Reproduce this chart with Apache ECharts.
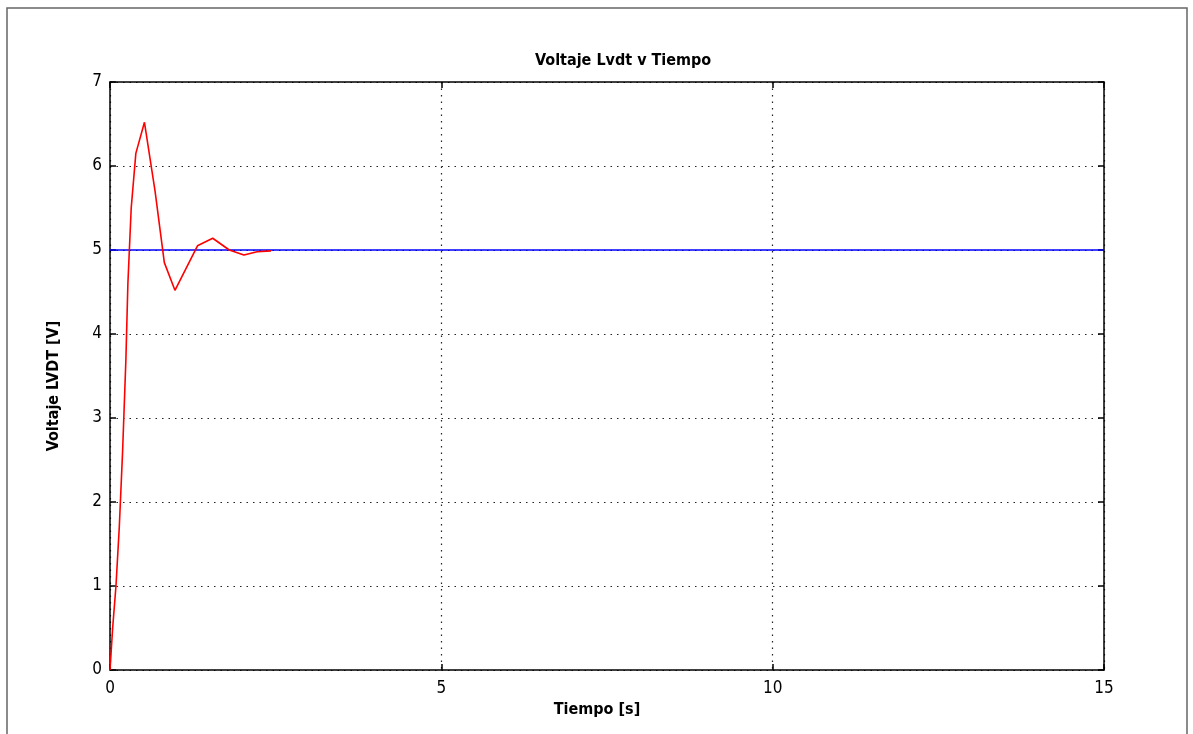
<!DOCTYPE html>
<html>
<head>
<meta charset="utf-8">
<script src="https://cdn.jsdelivr.net/npm/echarts@6/dist/echarts.min.js"></script>
<style>html,body{margin:0;padding:0;background:#fff;}#c{width:1193px;height:734px;}</style>
</head>
<body>
<div id="c"></div>
<script>
const xTicks = [0, 5, 10, 15];
const yTicks = [0, 1, 2, 3, 4, 5, 6, 7];
const timeRed = [0, 0.04, 0.09, 0.14, 0.19, 0.24, 0.27, 0.32, 0.39, 0.52, 0.68, 0.82, 0.98, 1.32, 1.55, 1.8, 2.02, 2.22, 2.43];
const voltRed = [0, 0.5, 1.0, 1.7, 2.6, 3.7, 4.6, 5.5, 6.15, 6.52, 5.7, 4.85, 4.52, 5.05, 5.14, 5.0, 4.94, 4.98, 4.99];
const timeBlue = [0, 15];
const voltBlue = [5, 5];

const FONT = "'Liberation Sans Narrow', 'DejaVu Sans Condensed', sans-serif";
const chart = echarts.init(document.getElementById('c'), null, {renderer: 'canvas'});
const grid = {left: 110, right: 89, top: 82, bottom: 64, show: false};
const axisCommon = {
  min: 0,
  axisLine: {show: true, onZero: false, lineStyle: {color: '#000', width: 1.5}},
  axisTick: {show: true, inside: true, length: 6, lineStyle: {color: '#000', width: 1.5}},
};
chart.setOption({
  backgroundColor: '#fff',
  animation: false,
  title: {
    text: 'Voltaje Lvdt v Tiempo', left: 530, top: 48,
    textStyle: {fontFamily: FONT, fontSize: 16, fontWeight: 'bold', color: '#000'}
  },
  grid: grid,
  graphic: [
    {type: 'rect', shape: {x: 7, y: 8, width: 1180, height: 740}, style: {fill: 'none', stroke: '#666', lineWidth: 1.5}, silent: true}
  ],
  xAxis: [
    Object.assign({}, axisCommon, {
      type: 'value', max: 15, interval: 5, position: 'bottom',
      name: 'Tiempo [s]', nameLocation: 'middle', nameGap: 30,
      nameTextStyle: {fontFamily: FONT, fontSize: 16, fontWeight: 'bold', color: '#000', padding: [0, 20, 0, 0]},
      axisLabel: {fontFamily: FONT, fontSize: 17, color: '#000', margin: 10},
      splitLine: {show: true, lineStyle: {color: '#222', width: 1.2, type: [1.5, 5]}}
    }),
    Object.assign({}, axisCommon, {
      type: 'value', max: 15, interval: 5, position: 'top',
      axisLabel: {show: false}, splitLine: {show: false}
    })
  ],
  yAxis: [
    Object.assign({}, axisCommon, {
      type: 'value', max: 7, interval: 1, position: 'left',
      name: 'Voltaje LVDT [V]', nameLocation: 'middle', nameGap: 48, nameRotate: 90,
      nameTextStyle: {fontFamily: FONT, fontSize: 16, fontWeight: 'bold', color: '#000', padding: [0, 20, 0, 0]},
      axisLabel: {fontFamily: FONT, fontSize: 17, color: '#000', margin: 8},
      splitLine: {show: true, lineStyle: {color: '#222', width: 1.2, type: [1.5, 5]}}
    }),
    Object.assign({}, axisCommon, {
      type: 'value', max: 7, interval: 1, position: 'right',
      axisLabel: {show: false}, splitLine: {show: false}
    })
  ],
  series: [
    {
      type: 'line', name: 'ref', data: timeBlue.map((t, i) => [t, voltBlue[i]]),
      showSymbol: false, lineStyle: {color: '#0000ff', width: 1.6}, z: 3
    },
    {
      type: 'line', name: 'lvdt', data: timeRed.map((t, i) => [t, voltRed[i]]),
      showSymbol: false, lineStyle: {color: '#ff0000', width: 1.6}, z: 4
    }
  ]
});
</script>
</body>
</html>
